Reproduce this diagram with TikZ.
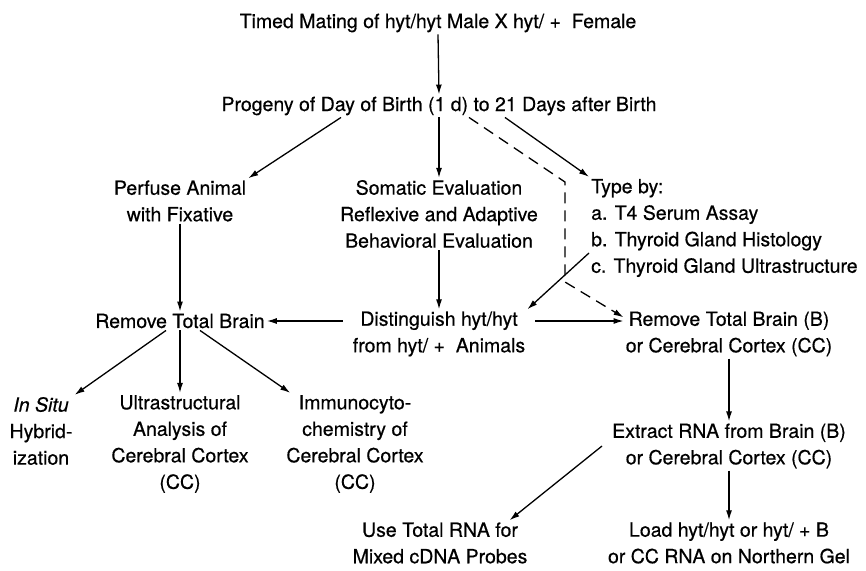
\documentclass[tikz,border=0pt]{standalone}
\usepackage{fontspec}
\setmainfont{TeX Gyre Heros}[FakeBold=0.5]
\usetikzlibrary{arrows.meta,positioning}

\tikzset{
  txt/.style={align=center, inner sep=2pt},
  arr/.style={line width=1.3pt, -{Latex[length=10pt,width=6pt]}},
  dasharr/.style={arr, dash pattern=on 11pt off 7pt}
}

\begin{document}
\begin{tikzpicture}[x=1pt,y=-1pt,font=\fontsize{19.5pt}{26.5pt}\selectfont]

\useasboundingbox (0,0) rectangle (866,570);

% Top of the scheme
\node[txt] (mating) at (438,23) {Timed Mating of hyt/hyt Male X hyt/ + \ Female};
\node[txt] (progeny) at (439,106) {Progeny of Day of Birth (1 d) to 21 Days after Birth};

% Second row
\node[txt] (perfuse) at (180,201) {Perfuse Animal\\with Fixative};
\node[txt] (somatic) at (439,214) {Somatic Evaluation\\Reflexive and Adaptive\\Behavioral Evaluation};
\node[txt, align=left, anchor=west] (typeby) at (589,228)
  {Type by:\\a. T4 Serum Assay\\b. Thyroid Gland Histology\\c. Thyroid Gland Ultrastructure};

% Third row
\node[txt] (brain) at (180,321) {Remove Total Brain};
\node[txt] (distinguish) at (439,334) {Distinguish hyt/hyt\\from hyt/ + \ Animals};
\node[txt] (brainb) at (729,334) {Remove Total Brain (B)\\or Cerebral Cortex (CC)};

% Left branches
\node[txt] (insitu) at (41,431) {\textit{In Situ}\\Hybrid-\\ization};
\node[txt] (ultra) at (180,444) {Ultrastructural\\Analysis of\\Cerebral Cortex\\(CC)};
\node[txt] (immuno) at (355,444) {Immunocyto-\\chemistry of\\Cerebral Cortex\\(CC)};

% RNA branch
\node[txt] (extract) at (729,446) {Extract RNA from Brain (B)\\or Cerebral Cortex (CC)};
\node[txt] (totalrna) at (440,543) {Use Total RNA for\\Mixed cDNA Probes};
\node[txt] (northern) at (729,543) {Load hyt/hyt or hyt/ + B\\or CC RNA on Northern Gel};

% Bends of the dashed line
\coordinate (kink1) at (565,182);
\coordinate (kink2) at (565,282);

% Arrows
\draw[arr] (mating.south) -- (progeny.north);
\draw[arr] ([xshift=-98pt]progeny.south) -- (perfuse.north east);
\draw[arr] (progeny.south) -- (somatic.north);
\draw[arr] ([xshift=66pt]progeny.south) -- (typeby.north west);
\draw[dasharr] ([xshift=30pt]progeny.south) -- (kink1) -- (kink2) -- ([yshift=-8pt]brainb.north west);
\draw[arr] ([yshift=-25pt]typeby.west) -- (distinguish.north east);
\draw[arr] (somatic.south) -- (distinguish.north);
\draw[arr] ([xshift=-8pt]brain.east -| distinguish.west) -- (brain.east);
\draw[arr] ([xshift=8pt]brain.east -| distinguish.east) -- (brain.east -| brainb.west);
\draw[arr] (perfuse.south) -- (brain.north);
\draw[arr] ([xshift=-14pt]brain.south) -- (insitu.north east);
\draw[arr] (brain.south) -- (ultra.north);
\draw[arr] ([xshift=20pt]brain.south) -- ([xshift=6pt]immuno.north west);
\draw[arr] (brainb.south) -- (extract.north);
\draw[arr] ([xshift=-8pt]extract.west) -- ([xshift=-20pt]totalrna.north east);
\draw[arr] (extract.south) -- (northern.north);

\end{tikzpicture}
\end{document}
